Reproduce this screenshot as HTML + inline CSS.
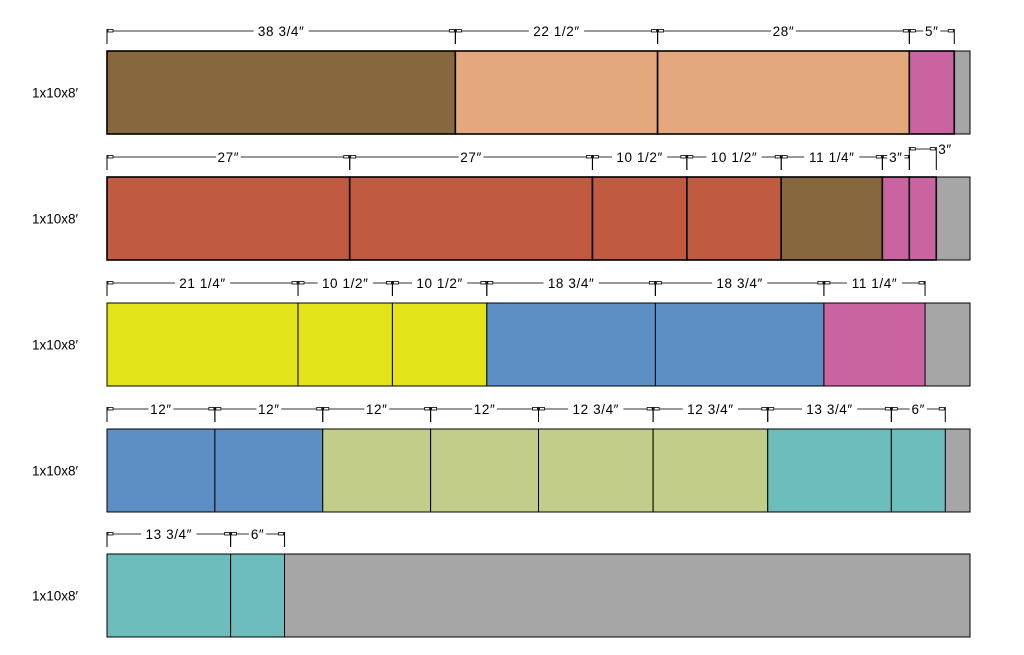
<!DOCTYPE html>
<html><head><meta charset="utf-8"><style>
body{margin:0;background:#fff;width:1024px;height:655px;overflow:hidden}
svg{display:block}
text{font-family:"Liberation Sans",sans-serif;font-size:13.5px;fill:#000}
</style></head><body>
<svg id="c" width="1024" height="655"></svg>
<script>
const boardLabels=["1x10x8′","1x10x8′","1x10x8′","1x10x8′","1x10x8′"];
const boardLength=96;
const row1Lengths=[38.75,22.5,28,5];
const row2Lengths=[27,27,10.5,10.5,11.25,3,3];
const row3Lengths=[21.25,10.5,10.5,18.75,18.75,11.25];
const row4Lengths=[12,12,12,12,12.75,12.75,13.75,6];
const row5Lengths=[13.75,6];
const row1Colors=["brown","peach","peach","pink"];
const row2Colors=["red","red","red","red","brown","pink","pink"];
const row3Colors=["yellow","yellow","yellow","blue","blue","pink"];
const row4Colors=["blue","blue","green","green","green","green","teal","teal"];
const row5Colors=["teal","teal"];
const row1Text=["38 3/4″","22 1/2″","28″","5″"];
const row2Text=["27″","27″","10 1/2″","10 1/2″","11 1/4″","3″","3″"];
const row3Text=["21 1/4″","10 1/2″","10 1/2″","18 3/4″","18 3/4″","11 1/4″"];
const row4Text=["12″","12″","12″","12″","12 3/4″","12 3/4″","13 3/4″","6″"];
const row5Text=["13 3/4″","6″"];
const rows=[[row1Lengths,row1Colors,row1Text],[row2Lengths,row2Colors,row2Text],[row3Lengths,row3Colors,row3Text],[row4Lengths,row4Colors,row4Text],[row5Lengths,row5Colors,row5Text]];
const pal={brown:"#86673e",peach:"#e3a87e",pink:"#c964a0",red:"#c05a40",yellow:"#e3e31a",blue:"#5e8fc4",green:"#c2cd8a",teal:"#6dbdbd",gray:"#a6a6a6"};
const X0=107,X1=970,H=83;
const tops=[51,177,303,429,554];
const sx=v=>X0+v*(X1-X0)/boardLength;
const svg=document.getElementById('c');
const NS="http://www.w3.org/2000/svg";
function mk(t,a,p){const e=document.createElementNS(NS,t);for(const k in a)e.setAttribute(k,a[k]);(p||svg).appendChild(e);return e;}
rows.forEach((r,ri)=>{
  const [lens,cols,txt]=r;const top=tops[ri];
  const g=mk('g',{});
  
  
  const bl=mk('text',{x:55,y:top+H/2+5,'text-anchor':'middle'},g);bl.textContent=boardLabels[ri];
  
  
  const bg=mk('rect',{x:X0,y:top,width:X1-X0,height:H,fill:pal.gray,stroke:'#000','stroke-width':1},g);
  
  
  let pos=0;const sw=ri<2?1.6:1;
  lens.forEach((L,i)=>{
    const a=sx(pos),b=sx(pos+L);
    const pc=mk('rect',{x:a,y:top,width:b-a,height:H,fill:pal[cols[i]],stroke:'#000','stroke-width':sw},g);
    
    
    const raised=(ri===1&&i===lens.length-1);
    const dy=top-20-(raised?8:0);
    mk('line',{x1:a,y1:dy-2,x2:a,y2:top-7,stroke:'#000'},g);
    mk('line',{x1:b,y1:dy-2,x2:b,y2:top-7,stroke:'#000'},g);
    mk('line',{x1:a,y1:dy,x2:b,y2:dy,stroke:'#333'},g);
    [[a,1],[b,-1]].forEach(([x,d])=>{mk('rect',{x:d>0?x+1:x-6,y:dy-1.5,width:5,height:2.5,fill:'#fff',stroke:'#000','stroke-width':0.8},g);});
    let tx=(a+b)/2;let anchor='middle';
    if(raised){tx=b+2;anchor='start';}
    const w=txt[i].length*7.6+2;
    if(!raised)mk('rect',{x:tx-w/2,y:dy-6,width:w,height:12,fill:'#fff'},g);
    const t=mk('text',{x:tx,y:dy+5,'text-anchor':anchor},g);
    t.setAttribute('style','white-space:pre;letter-spacing:0.6px');
    t.textContent=txt[i];
    
    
    pos+=L;
  });
});
</script>
</body></html>
